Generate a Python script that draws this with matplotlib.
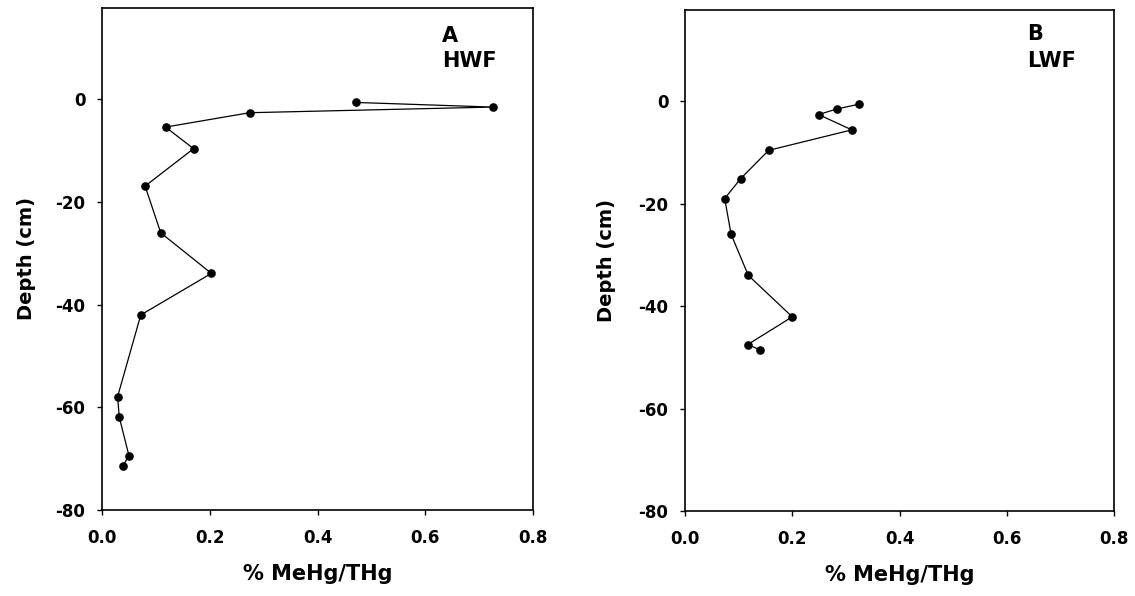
import matplotlib
matplotlib.use("Agg")
import matplotlib.pyplot as plt

# Panel A (HWF)
hwf_x = [0.471, 0.725, 0.274, 0.118, 0.170, 0.080, 0.109, 0.203, 0.072, 0.029, 0.032, 0.050, 0.039]
hwf_depth = [-0.6, -1.5, -2.6, -5.4, -9.6, -16.9, -26.0, -33.9, -42.0, -57.9, -61.9, -69.4, -71.4]

# Panel B (LWF)
lwf_x = [0.324, 0.284, 0.249, 0.311, 0.156, 0.104, 0.074, 0.086, 0.118, 0.200, 0.117, 0.139]
lwf_depth = [-0.6, -1.5, -2.6, -5.6, -9.6, -15.1, -19.0, -26.0, -34.0, -42.1, -47.5, -48.5]

xticks = [0.0, 0.2, 0.4, 0.6, 0.8]
xticklabels = ["0.0", "0.2", "0.4", "0.6", "0.8"]
yticks = [0, -20, -40, -60, -80]
yticklabels = ["0", "-20", "-40", "-60", "-80"]

W, H = 1135, 596
fig = plt.figure(figsize=(W / 100, H / 100), dpi=100)

def px_axes(l, r, t, b):
    return fig.add_axes([l / W, 1 - b / H, (r - l) / W, (b - t) / H])

axA = px_axes(102, 533, 8, 510)
axB = px_axes(685, 1114, 10, 511)

label_font = dict(family="DejaVu Sans", weight="bold", size=15)
ylabel_font = dict(family="DejaVu Sans", weight="bold", size=14)

panels = [
    (axA, hwf_x, hwf_depth, "A", "HWF", (0.788, 0.933, 0.883), -0.153),
    (axB, lwf_x, lwf_depth, "B", "LWF", (0.797, 0.940, 0.886), -0.161),
]

for ax, xs, ys, l1, l2, (tx, ty1, ty2), ylx in panels:
    ax.plot(xs, ys, color="black", lw=0.9, marker="o", ms=5.2,
            markerfacecolor="black", markeredgecolor="black")
    ax.set_xlim(0, 0.8)
    ax.set_ylim(-80, 17.8)
    ax.set_xticks(xticks)
    ax.set_xticklabels(xticklabels, fontfamily="DejaVu Sans", fontweight="bold", fontsize=12)
    ax.set_yticks(yticks)
    ax.set_yticklabels(yticklabels, fontfamily="DejaVu Sans", fontweight="bold", fontsize=12)
    ax.tick_params(direction="out", length=3.5, width=1)
    ax.tick_params(axis="x", pad=10)
    ax.tick_params(axis="y", pad=8.5)
    for s in ax.spines.values():
        s.set_linewidth(1.2)
    ax.set_xlabel("% MeHg/THg", **label_font)
    ax.xaxis.set_label_coords(0.5, -0.108)
    ax.set_ylabel("Depth (cm)", **ylabel_font)
    ax.yaxis.set_label_coords(ylx, 0.5)
    ax.text(tx, ty1, l1, transform=ax.transAxes, ha="left", va="baseline", **label_font)
    ax.text(tx, ty2, l2, transform=ax.transAxes, ha="left", va="baseline", **label_font)

fig.savefig("out.png", dpi=100)
